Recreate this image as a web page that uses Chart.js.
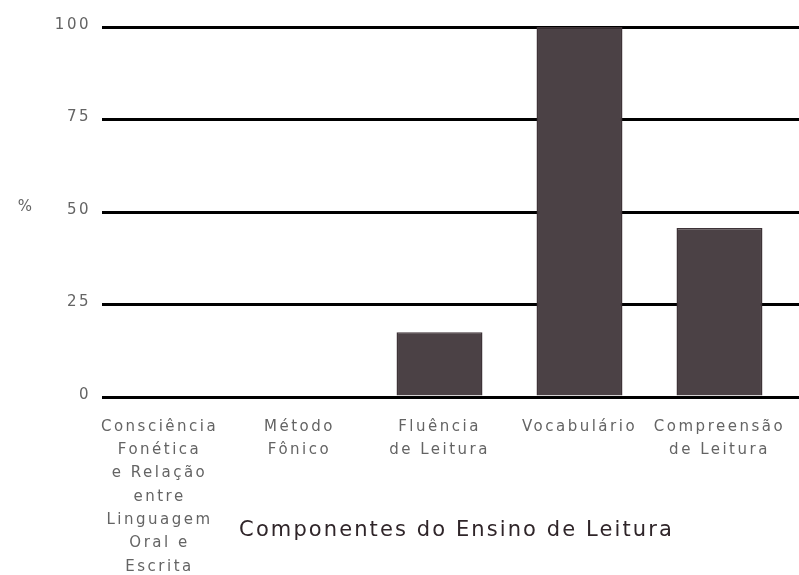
<!DOCTYPE html>
<html>
<head>
<meta charset="utf-8">
<script src="https://cdn.jsdelivr.net/npm/chart.js@4.4.1/dist/chart.umd.min.js"></script>
<style>
  html, body { margin: 0; padding: 0; background: #ffffff; }
  #wrap { width: 799px; height: 575px; position: relative; }
</style>
</head>
<body>
<div id="wrap"><canvas id="c" width="799" height="575"></canvas></div>
<script>
// ---- data ----
const categories = [
  ["Consciência", "Fonética", "e Relação", "entre", "Linguagem", "Oral e", "Escrita"],
  ["Método", "Fônico"],
  ["Fluência", "de Leitura"],
  "Vocabulário",
  ["Compreensão", "de Leitura"]
];
const percentValues = [0, 0, 17.5, 100, 45.7];
const yTickValues = [0, 25, 50, 75, 100];
const xAxisTitle = "Componentes do Ensino de Leitura";
const yAxisTitle = "%";

// ---- styling ----
const barColor = "#4b4145";
const barEdge = "#3e3337";
const tickColor = "#646464";
const titleColor = "#2f2529";
const baseFont = '"DejaVu Sans", sans-serif';

const overlay = {
  id: "overlay",
  beforeUpdate(chart) { chart.ctx.letterSpacing = "2.5px"; },
  beforeDraw(chart) { chart.ctx.letterSpacing = "2.5px"; },
  afterDraw(chart) {
    const { ctx, chartArea, scales } = chart;
    const y = scales.y;
    ctx.save();
    ctx.textAlign = "center";
    ctx.textBaseline = "middle";
    ctx.letterSpacing = "0px";
    ctx.fillStyle = tickColor;
    ctx.font = "15px " + baseFont;
    ctx.fillText(yAxisTitle, 25, y.getPixelForValue(50) - 5);
    ctx.letterSpacing = "2.1px";
    ctx.fillStyle = titleColor;
    ctx.font = "21px " + baseFont;
    ctx.fillText(xAxisTitle, (chartArea.left + chartArea.right) / 2 + 6, 531);
    ctx.restore();
  }
};

new Chart(document.getElementById("c"), {
  type: "bar",
  data: {
    labels: categories,
    datasets: [{
      data: percentValues,
      backgroundColor: barColor,
      borderColor: barEdge,
      borderWidth: 1.5,
      borderSkipped: "bottom",
      barPercentage: 0.614,
      categoryPercentage: 1
    }]
  },
  options: {
    responsive: false,
    animation: false,
    events: [],
    layout: { padding: { top: 27, right: 0, left: 0, bottom: 0 } },
    plugins: { legend: { display: false }, tooltip: { enabled: false } },
    scales: {
      x: {
        offset: true,
        grid: { display: false, drawTicks: false },
        border: { display: false },
        ticks: {
          color: tickColor,
          font: { family: baseFont, size: 15, lineHeight: 1.555 },
          padding: 18,
          maxRotation: 0,
          autoSkip: false
        },
        afterBuildTicks(scale) {
          scale._startValue = -0.411;
          scale._valueRange = 4.979;
        },
        afterFit(scale) {
          scale.height = 178;
          scale.paddingLeft = 0;
          scale.paddingRight = 0;
        }
      },
      y: {
        min: 0,
        max: 100,
        afterBuildTicks(scale) { scale.ticks = yTickValues.map(v => ({ value: v })); },
        grid: { color: "#000000", lineWidth: 3, drawTicks: false },
        border: { display: false },
        ticks: {
          color: tickColor,
          font: { family: baseFont, size: 15 },
          padding: 11,
          labelOffset: -2
        },
        afterFit(scale) {
          scale.width = 102;
          scale.paddingTop = 0;
          scale.paddingBottom = 0;
        }
      }
    }
  },
  plugins: [overlay]
});
</script>
</body>
</html>
